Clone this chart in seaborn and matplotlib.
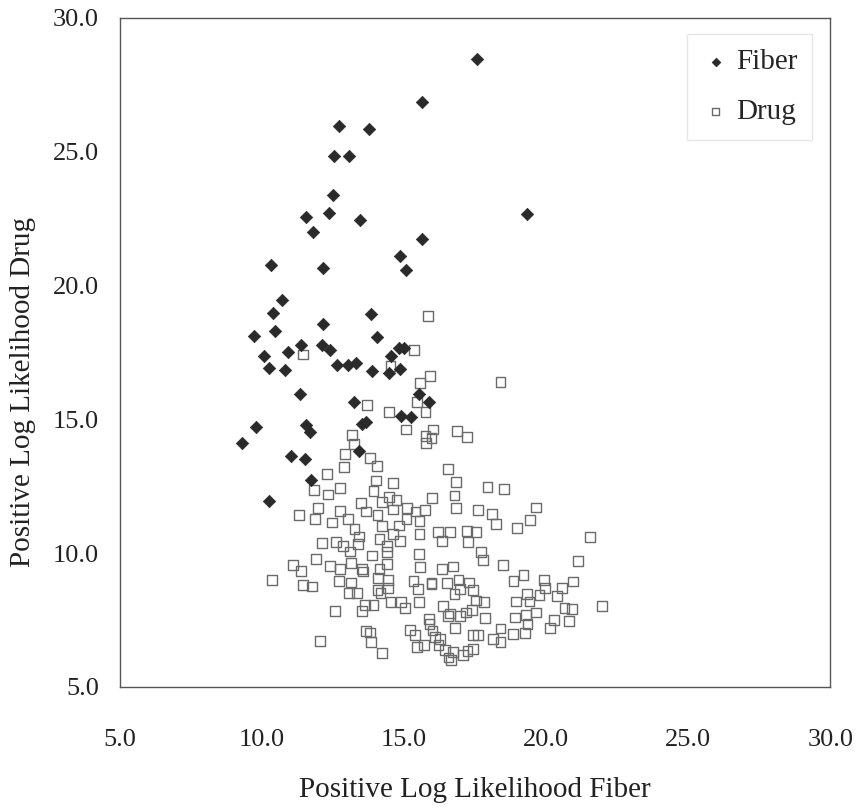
import matplotlib
matplotlib.use("Agg")
import matplotlib.pyplot as plt
import seaborn as sns
import pandas as pd

fiber_x = [17.58, 15.64, 12.71, 13.77, 12.53, 13.05, 12.48, 12.34, 11.53, 13.44, 19.34, 11.78,
           15.62, 10.32, 12.15, 14.85, 15.06, 10.70, 10.39, 13.82, 9.72, 10.45, 12.13, 14.06,
           10.07, 10.92, 11.38, 12.11, 12.40, 10.24, 10.82, 12.65, 13.02, 13.32, 13.86, 14.52,
           14.81, 15.00, 14.46, 14.86, 11.32, 15.52, 15.87, 13.25, 9.80, 11.55, 11.69, 13.52,
           13.67, 14.88, 15.25, 9.30, 11.01, 11.51, 13.40, 11.72, 10.24]
fiber_y = [28.47, 26.87, 25.94, 25.83, 24.84, 24.84, 23.37, 22.72, 22.54, 22.45, 22.66, 22.00,
           21.75, 20.77, 20.67, 21.09, 20.59, 19.47, 18.97, 18.95, 18.12, 18.29, 18.56, 18.06,
           17.38, 17.50, 17.77, 17.77, 17.60, 16.90, 16.84, 17.04, 17.04, 17.09, 16.80, 17.35,
           17.65, 17.67, 16.73, 16.86, 15.94, 15.95, 15.65, 15.63, 14.70, 14.80, 14.51, 14.81,
           14.89, 15.14, 15.08, 14.10, 13.62, 13.52, 13.83, 12.73, 11.94]

drug_x = [15.83, 15.35, 11.45, 14.52, 15.91, 15.56, 18.39, 13.69, 15.44, 15.75, 14.48, 15.06,
          13.17, 16.02, 15.75, 15.96, 15.77, 16.85, 17.22, 13.23, 12.92, 13.81, 14.04, 12.88,
          16.54, 12.28, 14.02, 14.60, 16.83, 17.93, 18.51, 11.84, 12.73, 13.92, 12.32, 14.48,
          14.73, 16.77, 15.98, 13.48, 14.23, 16.81, 19.64, 11.97, 11.30, 12.75, 13.65, 14.06,
          14.60, 15.40, 15.73, 17.60, 18.10, 13.02, 11.86, 12.46, 13.25, 14.23, 14.83, 15.08,
          15.54, 18.24, 19.43, 18.97, 16.18, 15.54, 16.60, 17.22, 17.52, 21.55, 14.61, 13.42,
          14.13, 14.85, 14.40, 13.38, 12.11, 12.61, 12.84, 16.33, 17.25, 13.09, 13.86, 14.40,
          15.52, 17.70, 11.90, 11.09, 11.36, 12.38, 12.73, 13.13, 13.52, 14.13, 14.40, 15.56,
          16.33, 16.71, 17.76, 18.47, 21.13, 10.36, 11.45, 11.76, 12.71, 13.13, 13.55, 14.09,
          14.44, 15.33, 15.96, 16.52, 16.91, 16.96, 17.29, 18.85, 19.20, 19.93, 20.55, 20.95,
          13.05, 13.34, 14.06, 14.17, 14.42, 15.48, 15.96, 16.77, 17.41, 17.54, 17.81, 18.93,
          19.32, 19.41, 19.76, 19.95, 20.37, 21.96, 13.61, 13.92, 13.52, 14.52, 14.88, 15.04,
          15.52, 12.57, 16.37, 15.87, 16.54, 16.96, 17.18, 17.39, 17.85, 18.91, 19.30, 19.64,
          20.28, 20.64, 20.90, 20.80, 20.14, 18.39, 15.89, 16.00, 15.21, 15.37, 16.08, 13.67,
          13.79, 13.84, 12.03, 17.41, 17.60, 18.14, 18.39, 18.83, 19.24, 19.34, 14.21, 15.44,
          15.71, 16.44, 16.64, 16.56, 17.06, 17.23, 17.41, 16.71, 16.21, 16.60, 16.79, 16.25,
          15.09]
drug_y = [18.87, 17.60, 17.42, 17.00, 16.63, 16.34, 16.38, 15.53, 15.65, 15.26, 15.26, 14.62,
          14.41, 14.62, 14.37, 14.31, 14.12, 14.56, 14.35, 14.08, 13.71, 13.54, 13.25, 13.21,
          13.15, 12.94, 12.71, 12.63, 12.67, 12.46, 12.40, 12.36, 12.44, 12.32, 12.19, 12.09,
          11.99, 12.15, 12.05, 11.86, 11.90, 11.69, 11.70, 11.67, 11.43, 11.57, 11.55, 11.41,
          11.63, 11.55, 11.61, 11.61, 11.45, 11.26, 11.26, 11.14, 10.89, 11.01, 11.03, 11.28,
          11.20, 11.09, 11.24, 10.93, 10.78, 10.70, 10.80, 10.83, 10.80, 10.60, 10.70, 10.62,
          10.54, 10.45, 10.26, 10.35, 10.37, 10.41, 10.26, 10.45, 10.41, 10.06, 9.91, 10.04,
          9.95, 10.04, 9.79, 9.54, 9.33, 9.52, 9.42, 9.64, 9.39, 9.42, 9.58, 9.48,
          9.39, 9.50, 9.75, 9.54, 9.71, 9.00, 8.81, 8.75, 8.96, 8.90, 9.31, 9.06,
          9.00, 8.96, 8.88, 8.88, 9.00, 8.67, 8.90, 8.96, 9.19, 9.00, 8.69, 8.94,
          8.52, 8.52, 8.61, 8.52, 8.69, 8.65, 8.84, 8.46, 8.61, 8.23, 8.17, 8.19,
          8.48, 8.19, 8.42, 8.71, 8.40, 8.03, 8.07, 8.07, 7.84, 8.17, 8.17, 7.94,
          8.17, 7.84, 8.03, 7.55, 7.65, 7.65, 7.78, 7.86, 7.57, 7.59, 7.69, 7.78,
          7.51, 7.94, 7.92, 7.45, 7.20, 7.18, 7.36, 7.11, 7.13, 6.95, 6.87, 7.09,
          7.03, 6.68, 6.72, 6.93, 6.93, 6.80, 6.68, 6.99, 7.01, 7.36, 6.26, 6.49,
          6.58, 6.39, 5.99, 6.10, 6.20, 6.33, 6.41, 6.29, 6.55, 7.74, 7.20, 6.78,
          11.68]

tick_vals = [5, 10, 15, 20, 25, 30]
tick_labels = ["5.0", "10.0", "15.0", "20.0", "25.0", "30.0"]

sns.set_theme(style="white")
plt.rcParams["font.family"] = ["Liberation Serif", "DejaVu Serif"]

fiber_df = pd.DataFrame({"x": fiber_x, "y": fiber_y})
drug_df = pd.DataFrame({"x": drug_x, "y": drug_y})

fig = plt.figure(figsize=(8.57, 8.10), dpi=100)
ax = fig.add_axes([0.140, 0.152, 0.829, 0.826])

sns.scatterplot(data=fiber_df, x="x", y="y", ax=ax, marker="D", s=40,
                color="#2a2a2a", edgecolor="#2a2a2a", linewidth=0.5, label="Fiber", zorder=3)
sns.scatterplot(data=drug_df, x="x", y="y", ax=ax, marker="s", s=50,
                facecolor="none", edgecolor="#6a6a6a", linewidth=1.0, label="Drug", zorder=2)

ax.set_xlim(5, 30)
ax.set_ylim(5, 30)
ax.set_xticks(tick_vals)
ax.set_xticklabels(tick_labels)
ax.set_yticks(tick_vals)
ax.set_yticklabels(tick_labels)
ax.tick_params(axis="x", labelsize=19, pad=30, length=0, colors="#222222")
ax.tick_params(axis="y", labelsize=19, pad=15, length=0, colors="#222222")
ax.set_xlabel("Positive Log Likelihood Fiber", fontsize=21, labelpad=19, color="#222222")
ax.set_ylabel("Positive Log Likelihood Drug", fontsize=21, color="#222222")
ax.yaxis.set_label_coords(-0.118, 0.44)
for sp in ax.spines.values():
    sp.set_color("#555555")
    sp.set_linewidth(1.0)
ax.grid(False)

leg = ax.legend(loc="upper right", fontsize=21, frameon=True, fancybox=False,
                borderpad=0.5, labelspacing=0.8, handletextpad=0.2, handlelength=1.0,
                markerscale=0.7, bbox_to_anchor=(0.995, 0.997))
leg.get_frame().set_edgecolor("#e0e0e0")
leg.get_frame().set_linewidth(1.0)

fig.savefig("out.png", dpi=100, facecolor="white")
